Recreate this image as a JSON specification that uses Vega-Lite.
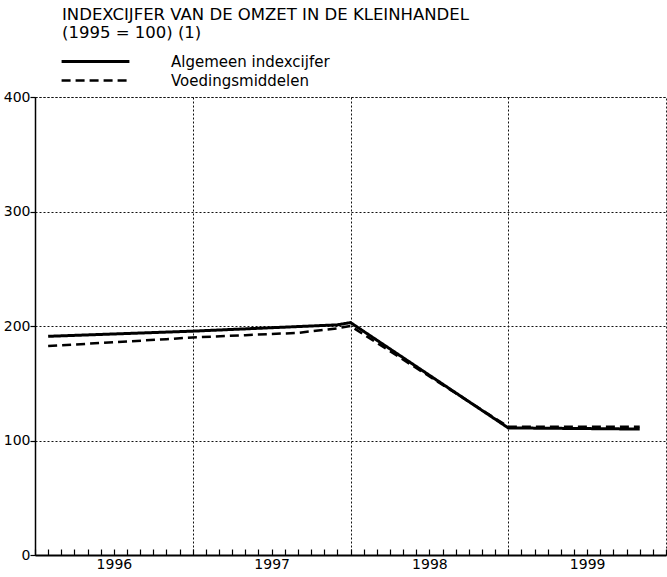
{
  "$schema": "https://vega.github.io/schema/vega-lite/v6.json",
  "autosize": {"type": "none"},
  "width": 631,
  "height": 458,
  "padding": {"left": 35, "top": 97, "right": 1, "bottom": 22},
  "background": "white",
  "config": {
    "font": "DejaVu Sans",
    "view": {"stroke": "#222", "strokeDash": [2, 2], "strokeWidth": 1}
  },
  "title": {
    "text": ["INDEXCIJFER VAN DE OMZET IN DE KLEINHANDEL", "(1995 = 100) (1)"],
    "anchor": "start",
    "frame": "group",
    "dx": 27,
    "dy": 25,
    "offset": 10,
    "fontSize": 16.5,
    "fontWeight": "normal",
    "color": "black",
    "lineHeight": 18
  },
  "data": {
    "values": [
      {"m": 1, "v": 191, "series": "Algemeen indexcijfer"},
      {"m": 12, "v": 195.5, "series": "Algemeen indexcijfer"},
      {"m": 19, "v": 199, "series": "Algemeen indexcijfer"},
      {"m": 23, "v": 201, "series": "Algemeen indexcijfer"},
      {"m": 24, "v": 203, "series": "Algemeen indexcijfer"},
      {"m": 36, "v": 111, "series": "Algemeen indexcijfer"},
      {"m": 46, "v": 110, "series": "Algemeen indexcijfer"},
      {"m": 1, "v": 182.5, "series": "Voedingsmiddelen"},
      {"m": 10, "v": 188.5, "series": "Voedingsmiddelen"},
      {"m": 12, "v": 190, "series": "Voedingsmiddelen"},
      {"m": 16, "v": 192, "series": "Voedingsmiddelen"},
      {"m": 20, "v": 194, "series": "Voedingsmiddelen"},
      {"m": 23, "v": 198, "series": "Voedingsmiddelen"},
      {"m": 24, "v": 200, "series": "Voedingsmiddelen"},
      {"m": 36, "v": 112, "series": "Voedingsmiddelen"},
      {"m": 46, "v": 112, "series": "Voedingsmiddelen"}
    ]
  },
  "encoding": {
    "x": {
      "field": "m",
      "type": "quantitative",
      "scale": {"domain": [0, 48], "nice": false, "zero": false},
      "axis": {
        "title": null,
        "values": [0,1,2,3,4,5,6,7,8,9,10,11,12,13,14,15,16,17,18,19,20,21,22,23,24,25,26,27,28,29,30,31,32,33,34,35,36,37,38,39,40,41,42,43,44,45,46,47,48],
        "labelExpr": "datum.value % 12 == 6 ? '' + (1995 + (datum.value + 6) / 12) : ''",
        "labelFontSize": 14,
        "labelColor": "black",
        "labelPadding": 8,
        "labelOverlap": false,
        "tickSize": -6,
        "tickColor": "black",
        "tickWidth": 1.2,
        "domainColor": "black",
        "domainWidth": 2,
        "grid": true,
        "gridColor": "#111",
        "gridDash": [2, 2],
        "gridOpacity": {"condition": {"test": "datum.value % 12 == 0 && datum.value > 0 && datum.value < 48", "value": 1}, "value": 0}
      }
    },
    "y": {
      "field": "v",
      "type": "quantitative",
      "scale": {"domain": [0, 400], "nice": false},
      "axis": {
        "title": null,
        "values": [0, 100, 200, 300, 400],
        "labelFontSize": 14,
        "labelColor": "black",
        "labelPadding": 0,
        "tickSize": 5,
        "tickColor": "black",
        "tickWidth": 1.2,
        "domainColor": "black",
        "domainWidth": 1.5,
        "grid": true,
        "gridColor": "#111",
        "gridDash": [2, 2]
      }
    }
  },
  "layer": [
    {
      "transform": [{"filter": "datum.series == 'Algemeen indexcijfer'"}],
      "mark": {"type": "line", "color": "black", "strokeWidth": 3},
      "encoding": {
        "strokeDash": {
          "field": "series",
          "type": "nominal",
          "scale": {"domain": ["Algemeen indexcijfer"], "range": [[1, 0]]},
          "legend": {
            "title": null,
            "orient": "none",
            "legendX": 25,
            "legendY": -71,
            "symbolType": "stroke",
            "symbolSize": 4600,
            "symbolStrokeWidth": 3,
            "symbolStrokeColor": "black",
            "labelFontSize": 15,
            "labelLimit": 400,
            "labelColor": "black",
            "labelOffset": 40
          }
        }
      }
    },
    {
      "transform": [{"filter": "datum.series == 'Voedingsmiddelen'"}],
      "mark": {"type": "line", "color": "black", "strokeWidth": 2.5},
      "encoding": {
        "strokeDash": {
          "field": "series",
          "type": "nominal",
          "scale": {"domain": ["Voedingsmiddelen"], "range": [[9, 5]]},
          "legend": {
            "title": null,
            "orient": "none",
            "legendX": 25,
            "legendY": -52,
            "symbolType": "stroke",
            "symbolSize": 4600,
            "symbolStrokeWidth": 2.5,
            "symbolStrokeColor": "black",
            "labelFontSize": 15,
            "labelLimit": 400,
            "labelColor": "black",
            "labelOffset": 40
          }
        }
      }
    }
  ],
  "resolve": {"scale": {"strokeDash": "independent"}, "legend": {"strokeDash": "independent"}}
}
